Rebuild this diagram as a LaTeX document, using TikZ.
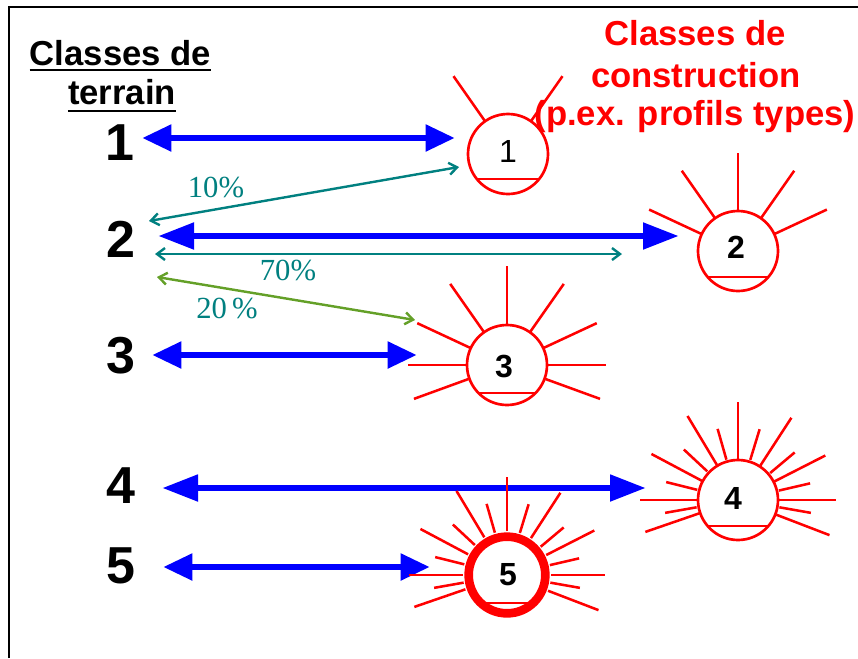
\documentclass[tikz,border=0pt]{standalone}
\usepackage{fontspec}
\setmainfont{Liberation Sans}
\newfontfamily\pctfont{Liberation Serif}
\usetikzlibrary{arrows.meta}
\definecolor{tealc}{RGB}{0,128,128}
\definecolor{greenc}{RGB}{100,160,40}
\begin{document}
\begin{tikzpicture}[x=0.75pt,y=-0.75pt,
  titleblk/.style={inner sep=0pt,font=\fontsize{26}{30}\selectfont\bfseries},
  titlered/.style={inner sep=0pt,text=red,font=\fontsize{26}{30}\selectfont\bfseries},
  numt/.style={inner sep=0pt,font=\fontsize{39}{39}\selectfont\bfseries},
  numc/.style={inner sep=0pt,font=\fontsize{24}{24}\selectfont\bfseries},
  pct/.style={inner sep=0pt,text=tealc,font=\fontsize{23}{23}\pctfont},
  sun/.style={circle,draw=red,line width=2pt,minimum size=60pt,inner sep=0pt},
  ray/.style={draw=red,line width=1.9pt},
  bluearr/.style={draw=blue,line width=5.2pt,{Triangle[length=22pt,width=19pt]}-{Triangle[length=22pt,width=19pt]}},
  bluearrL/.style={draw=blue,line width=5.2pt,{Triangle[length=27pt,width=19pt]}-{Triangle[length=27pt,width=19pt]}},
  thinarr/.style={line width=1.8pt,{Straight Barb[length=6pt,width=9pt]}-{Straight Barb[length=6pt,width=9pt]}}
]
\useasboundingbox (0,0) rectangle (858,658);
\fill[white] (0,0) rectangle (858,658);
\draw[line width=1.6pt] (9,658) -- (9,7) -- (858,7);

% titles
\node[titleblk,anchor=base] (tt1) at (120.5,65) {Classes de};
\node[titleblk,anchor=base] (tt2) at (122,104) {terrain};
\draw[line width=1.5pt] ([yshift=-4pt]tt1.base west) -- ([yshift=-4pt]tt1.base east);
\draw[line width=1.5pt] ([yshift=-5pt]tt2.base west) -- ([yshift=-5pt]tt2.base east);
\node[titlered,anchor=base] (tr1) at (695,45) {Classes de};
\node[titlered,anchor=base] (tr2) at (696,87) {construction};
\node[titlered,anchor=base] (tr3) at (695,125) {(p.ex. profils types)};

% terrain numbers
\node[numt,anchor=base] (t1) at (120,160) {1};
\node[numt,anchor=base] (t2) at (121,257) {2};
\node[numt,anchor=base] (t3) at (121,373) {3};
\node[numt,anchor=base] (t4) at (121,503) {4};
\node[numt,anchor=base] (t5) at (121,583) {5};

% blue arrows
\coordinate (b1s) at (142,138); \coordinate (b1e) at (455,138);
\coordinate (b2s) at (158,236); \coordinate (b2e) at (679,236);
\coordinate (b3s) at (152,355); \coordinate (b3e) at (417,355);
\coordinate (b4s) at (162,488); \coordinate (b4e) at (646,488);
\coordinate (b5s) at (163,567); \coordinate (b5e) at (430,567);
\draw[bluearr] (b1s) -- (b1e);
\draw[bluearrL] (b2s) -- (b2e);
\draw[bluearr] (b3s) -- (b3e);
\draw[bluearrL] (b4s) -- (b4e);
\draw[bluearr] (b5s) -- (b5e);

% thin arrows
\coordinate (p1s) at (149,221); \coordinate (p1e) at (459,167);
\coordinate (p7s) at (155,254); \coordinate (p7e) at (622,254);
\coordinate (p2s) at (157,277); \coordinate (p2e) at (415,320);
\draw[thinarr,draw=tealc] (p1s) -- (p1e);
\draw[thinarr,draw=tealc] (p7s) -- (p7e);
\draw[thinarr,draw=greenc] (p2s) -- (p2e);
\node[pct] (l10) at (216,187) {10\%};
\node[pct] (l70) at (288,270) {70\%};
\node[pct] (l20) at (227,308) {20\,\%};

% suns
\node[sun] (c1) at (508,154) {};
\node[sun] (c2) at (738,251) {};
\node[sun] (c3) at (507,365) {};
\node[sun] (c4) at (738,500) {};
\node[sun,line width=6.5pt,minimum size=57.5pt] (c5) at (507,575) {};

\foreach \a in {55,125} \draw[ray] ([shift={(-\a:41)}]c1.center) -- ([shift={(-\a:95)}]c1.center);
\foreach \a in {25,55,90,125,155} \draw[ray] ([shift={(-\a:41)}]c2.center) -- ([shift={(-\a:98)}]c2.center);
\foreach \a in {0,25,55,90,125,155,180,200,340} \draw[ray] ([shift={(-\a:41)}]c3.center) -- ([shift={(-\a:99)}]c3.center);
\foreach \a in {0,27,57,90,121,152,180,199,339} \draw[ray] ([shift={(-\a:41)}]c4.center) -- ([shift={(-\a:98)}]c4.center);
\foreach \a in {13,40,73,106,137,166,190,350} \draw[ray] ([shift={(-\a:42)}]c4.center) -- ([shift={(-\a:74)}]c4.center);
\foreach \a in {0,27,57,90,121,152,180,199,339} \draw[ray] ([shift={(-\a:44)}]c5.center) -- ([shift={(-\a:98)}]c5.center);
\foreach \a in {13,40,73,106,137,166,190,350} \draw[ray] ([shift={(-\a:44)}]c5.center) -- ([shift={(-\a:74)}]c5.center);

% chords
\draw[red,line width=1.8pt] ([shift={(-31,25)}]c1.center) -- ([shift={(31,25)}]c1.center);
\draw[red,line width=1.8pt] ([shift={(-30,26)}]c2.center) -- ([shift={(30,26)}]c2.center);
\draw[red,line width=1.8pt] ([shift={(-29,28)}]c3.center) -- ([shift={(29,28)}]c3.center);
\draw[red,line width=1.8pt] ([shift={(-30,26)}]c4.center) -- ([shift={(30,26)}]c4.center);
\draw[red,line width=1.8pt] ([shift={(-22,28)}]c5.center) -- ([shift={(22,28)}]c5.center);

% numbers in suns
\node[numc,font=\fontsize{24}{24}\selectfont,anchor=base] (n1) at (508,162) {1};
\node[numc,anchor=base] (n2) at (736,258) {2};
\node[numc,anchor=base] (n3) at (504,377) {3};
\node[numc,anchor=base] (n4) at (733,509) {4};
\node[numc,anchor=base] (n5) at (508,585) {5};
\end{tikzpicture}
\end{document}
